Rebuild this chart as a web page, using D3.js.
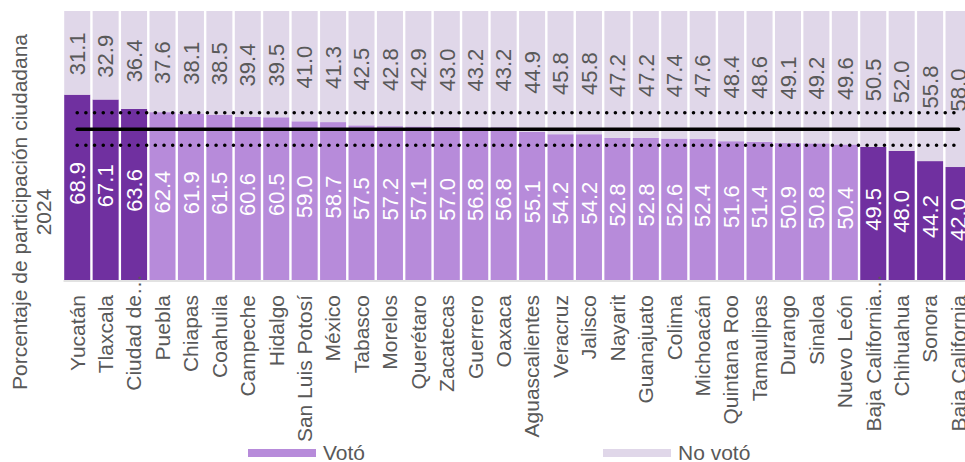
<!DOCTYPE html>
<html>
<head>
<meta charset="utf-8">
<script src="https://cdn.jsdelivr.net/npm/d3@7"></script>
<style>
  body { margin: 0; background: #ffffff; }
  svg { display: block; font-family: "Liberation Sans", Arial, sans-serif; }
</style>
</head>
<body>
<svg id="chart" width="965" height="462"></svg>
<script>
// ---- data ----
const categories = ["Yucatán","Tlaxcala","Ciudad de…","Puebla","Chiapas","Coahuila","Campeche","Hidalgo","San Luis Potosí","México","Tabasco","Morelos","Querétaro","Zacatecas","Guerrero","Oaxaca","Aguascalientes","Veracruz","Jalisco","Nayarit","Guanajuato","Colima","Michoacán","Quintana Roo","Tamaulipas","Durango","Sinaloa","Nuevo León","Baja California…","Chihuahua","Sonora","Baja California"];
const voto = [68.9,67.1,63.6,62.4,61.9,61.5,60.6,60.5,59.0,58.7,57.5,57.2,57.1,57.0,56.8,56.8,55.1,54.2,54.2,52.8,52.8,52.6,52.4,51.6,51.4,50.9,50.8,50.4,49.5,48.0,44.2,42.0];
const noVoto = [31.1,32.9,36.4,37.6,38.1,38.5,39.4,39.5,41.0,41.3,42.5,42.8,42.9,43.0,43.2,43.2,44.9,45.8,45.8,47.2,47.2,47.4,47.6,48.4,48.6,49.1,49.2,49.6,50.5,52.0,55.8,58.0];
const highlighted = ["Yucatán","Tlaxcala","Ciudad de…","Baja California…","Chihuahua","Sonora","Baja California"];
const meanLine = 56.0;
const bandLines = [62.2, 50.1];
const seriesNames = ["Votó","No votó"];
const yTitle = ["Porcentaje de participación ciudadana","2024"];

// ---- styles ----
const cDark = "#7030a0", cLight = "#b78bda", cNo = "#e0d7e9";
const textGrey = "#595959";

const svg = d3.select("#chart");
const table = categories.map((c, i) => ({cat: c, "Votó": voto[i], "No votó": noVoto[i]}));
const stack = d3.stack().keys(seriesNames)(table);

const x = d3.scaleBand().domain(categories).range([63, 63 + 32 * 28.43]).paddingInner(0.085).paddingOuter(0.0425);
const y = d3.scaleLinear().domain([0, 100]).range([280, 11]);

// bars
const groups = svg.append("g").selectAll("g").data(stack).join("g");
groups.selectAll("rect").data(s => s.map(d => ({key: s.key, d}))).join("rect")
  .attr("x", o => x(o.d.data.cat))
  .attr("width", x.bandwidth())
  .attr("y", o => y(o.d[1]))
  .attr("height", o => y(o.d[0]) - y(o.d[1]))
  .attr("fill", o => o.key === "No votó" ? cNo : (highlighted.includes(o.d.data.cat) ? cDark : cLight));

// x axis
const xAxis = svg.append("g").attr("transform", "translate(0,280.5)")
  .call(d3.axisBottom(x).tickSize(0));
xAxis.select(".domain").attr("stroke", "#d9d9d9").attr("stroke-width", 1.5);
const tmp = svg.append("text").attr("font-size", 21).text("…");
const ellW = tmp.node().getComputedTextLength();
tmp.remove();
xAxis.selectAll(".tick text")
  .attr("font-family", "Liberation Sans, Arial, sans-serif")
  .attr("font-size", 21)
  .attr("fill", textGrey)
  .attr("transform", "rotate(-90)")
  .attr("text-anchor", "end")
  .attr("y", 0)
  .attr("dy", "0.35em")
  .attr("x", d => d.endsWith("…") ? -14.5 + ellW : -14.5);

// reference lines
const x0 = x(categories[0]) + x.bandwidth() / 2;
const x1 = x(categories[categories.length - 1]) + x.bandwidth() / 2;
svg.append("g").selectAll("line").data(bandLines).join("line")
  .attr("x1", x0).attr("x2", x1)
  .attr("y1", d => y(d)).attr("y2", d => y(d))
  .attr("stroke", "#000").attr("stroke-width", 3.6)
  .attr("stroke-linecap", "round").attr("stroke-dasharray", "0.01 8.67");
svg.append("line")
  .attr("x1", x0).attr("x2", x1)
  .attr("y1", y(meanLine)).attr("y2", y(meanLine))
  .attr("stroke", "#000").attr("stroke-width", 3.5)
  .attr("stroke-linecap", "round");

// value labels
stack.forEach(s => {
  svg.append("g").selectAll("text").data(s).join("text")
    .attr("transform", d => {
      const cx = x(d.data.cat) + x.bandwidth() / 2;
      const cy = (y(d[0]) + y(d[1])) / 2 + (s.key === "Votó" ? -4 : 1);
      return `translate(${cx},${cy}) rotate(-90)`;
    })
    .attr("text-anchor", "middle")
    .attr("dy", "0.35em")
    .attr("font-size", 22)
    .attr("fill", s.key === "Votó" ? "#ffffff" : textGrey)
    .text(d => (d[1] - d[0]).toFixed(1));
});

// y title
svg.append("text")
  .attr("transform", "translate(26.5,212) rotate(-90)")
  .attr("text-anchor", "middle")
  .attr("font-size", 21)
  .attr("fill", textGrey)
  .selectAll("tspan").data(yTitle).join("tspan")
  .attr("x", 0).attr("dy", (d, i) => i === 0 ? 0 : 24.5)
  .text(d => d);

// legend
const legendX = [248, 603];
const lg = svg.append("g").selectAll("g").data(seriesNames).join("g")
  .attr("transform", (d, i) => `translate(${legendX[i]},449)`);
lg.append("rect").attr("width", 68).attr("height", 8)
  .attr("fill", (d, i) => i === 0 ? cLight : cNo);
lg.append("text").attr("x", 75).attr("y", 11).attr("font-size", 21)
  .attr("fill", textGrey).text(d => d);
</script>
</body>
</html>
